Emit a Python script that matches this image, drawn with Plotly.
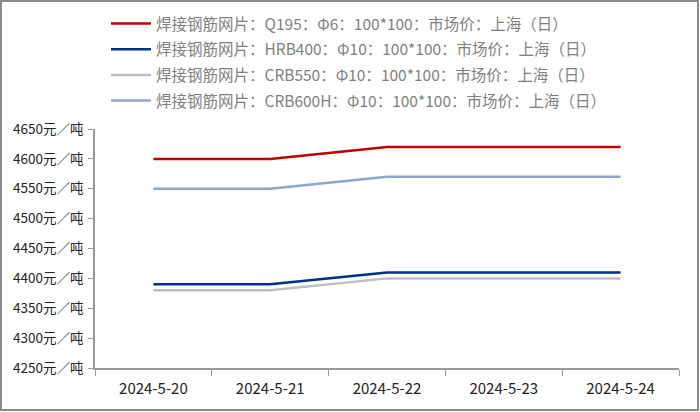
import plotly.graph_objects as go

# data
dates = ['2024-5-20', '2024-5-21', '2024-5-22', '2024-5-23', '2024-5-24']
q195 = [4600, 4600, 4620, 4620, 4620]
hrb400 = [4390, 4390, 4410, 4410, 4410]
crb550 = [4380, 4380, 4400, 4400, 4400]
crb600h = [4550, 4550, 4570, 4570, 4570]

names = [
    '焊接钢筋网片：Q195：Φ6：100*100：市场价：上海（日）',
    '焊接钢筋网片：HRB400：Φ10：100*100：市场价：上海（日）',
    '焊接钢筋网片：CRB550：Φ10：100*100：市场价：上海（日）',
    '焊接钢筋网片：CRB600H：Φ10：100*100：市场价：上海（日）',
]
series = [q195, hrb400, crb550, crb600h]
colors = ['#C00000', '#002F87', '#BFBFBF', '#8EA6C9']

yticks = [4250, 4300, 4350, 4400, 4450, 4500, 4550, 4600, 4650]

fig = go.Figure()
for i, (name, vals, col) in enumerate(zip(names, series, colors)):
    fig.add_trace(go.Scatter(
        x=dates, y=vals, mode='lines', name=name,
        legendgroup=str(i),
        line=dict(color=col, width=2.5),
    ))

W, H = 700, 412
L, R, T, B = 95, 21, 129, 44
pw, ph = W - L - R, H - T - B

def px_x(p):
    return (p - L) / pw

def px_y(p):
    return (H - B - p) / ph

fig.update_layout(
    width=W, height=H,
    margin=dict(l=L, r=R, t=T, b=B, autoexpand=False),
    paper_bgcolor='white',
    plot_bgcolor='white',
    font=dict(family='Noto Sans CJK SC, sans-serif', size=13, color='#333333'),
    showlegend=True,
    legend=dict(
        x=px_x(106), y=px_y(7), xanchor='left', yanchor='top',
        font=dict(size=15.5, color='#7F7F7F'),
        tracegroupgap=2.5,
        itemwidth=40,
        bgcolor='rgba(0,0,0,0)',
    ),
    xaxis=dict(
        type='category',
        range=[-0.5, 4.5],
        showgrid=False,
        showline=True, linecolor='#999999', linewidth=1.5,
        ticks='outside', tickson='boundaries', ticklen=6, tickcolor='#999999',
        tickfont=dict(size=15, color='#222222'),
        ticklabelstandoff=6,
    ),
    yaxis=dict(
        range=[4250, 4650],
        tickvals=yticks,
        ticktext=[f'{v}元／吨' for v in yticks],
        showgrid=False, zeroline=False,
        showline=True, linecolor='#999999', linewidth=1.5,
        ticks='outside', ticklen=5, tickcolor='#999999',
        tickfont=dict(size=13.5, color='#222222'),
        ticklabelstandoff=2,
    ),
)

# outer frame of the picture
fig.add_shape(
    type='rect', xref='paper', yref='paper',
    x0=px_x(1), x1=px_x(698), y0=px_y(410), y1=px_y(1),
    line=dict(color='#8C8C8C', width=2), fillcolor='rgba(0,0,0,0)',
)

# page has a default body margin; drop it so the chart fills the window
fig.write_html('out.html', config={'displayModeBar': False},
               post_script="document.body.style.margin='0';")
